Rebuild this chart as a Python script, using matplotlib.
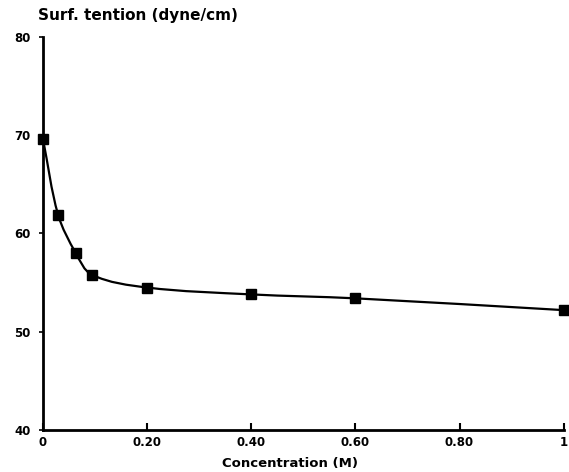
import numpy as np
import matplotlib
matplotlib.use("Agg")
import matplotlib.pyplot as plt
from matplotlib.path import Path
from matplotlib.patches import PathPatch

# Data
conc = [0.0, 0.029, 0.063, 0.094, 0.2, 0.4, 0.6, 1.0]
surf_tension = [69.6, 61.9, 58.0, 55.8, 54.5, 53.8, 53.4, 52.2]

xticks = [0, 0.2, 0.4, 0.6, 0.8, 1.0]
xtick_labels = ["0", "0.20", "0.40", "0.60", "0.80", "1"]
yticks = [40, 50, 60, 70, 80]
ytick_labels = ["40", "50", "60", "70", "80"]

plt.rcParams['font.family'] = ['DejaVu Sans']

fig = plt.figure(figsize=(5.69, 4.72), dpi=100)
ax = fig.add_axes([0.0756, 0.089, 0.915, 0.8326])
ax.set_xlim(0, 1.0)
ax.set_ylim(40, 80)

# smooth curve through the points, built in display space, drawn as Bezier path
pts = ax.transData.transform(np.column_stack([conc, surf_tension]))
n = len(pts)
verts = [tuple(pts[0])]
codes = [Path.MOVETO]
def tangent(i):
    a = pts[max(i - 1, 0)]
    b = pts[min(i + 1, n - 1)]
    d = b - a
    return d / np.hypot(*d)
for i in range(n - 1):
    p1, p2 = pts[i], pts[i + 1]
    L = np.hypot(*(p2 - p1)) / 3.0
    c1 = p1 + tangent(i) * L
    c2 = p2 - tangent(i + 1) * L
    verts += [tuple(c1), tuple(c2), tuple(p2)]
    codes += [Path.CURVE4] * 3
data_verts = ax.transData.inverted().transform(np.array(verts))
patch = PathPatch(Path(data_verts, codes), facecolor='none', edgecolor='black', lw=1.6)
ax.add_patch(patch)
ax.plot(conc, surf_tension, linestyle='none', marker='s', markersize=6.5,
        color='black', clip_on=False)

for s in ['top', 'right']:
    ax.spines[s].set_visible(False)
for s in ['left', 'bottom']:
    ax.spines[s].set_linewidth(2.0)

ax.set_xticks(xticks)
ax.set_xticklabels(xtick_labels, fontsize=8.5, fontweight='bold')
ax.set_yticks(yticks)
ax.set_yticklabels(ytick_labels, fontsize=8.5, fontweight='bold')
ax.tick_params(axis='x', direction='in', length=5, width=1.5, pad=4)
ax.tick_params(axis='y', direction='out', length=3, width=1.2, pad=6)

fig.text(0.067, 0.967, "Surf. tention (dyne/cm)", fontsize=11, fontweight='bold',
         ha='left', va='center')
fig.text(0.51, 0.017, "Concentration (M)", fontsize=9.5, fontweight='bold',
         ha='center', va='center')

fig.savefig("out.png", dpi=100)
